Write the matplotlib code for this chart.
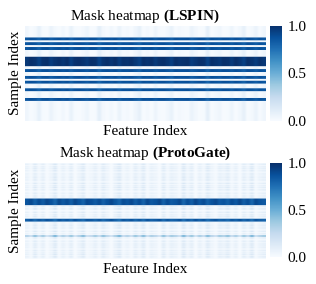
import numpy as np
import matplotlib
matplotlib.use("Agg")
import matplotlib.pyplot as plt

plt.rcParams['font.family'] = ['Liberation Serif', 'DejaVu Serif']
plt.rcParams['mathtext.fontset'] = 'custom'
plt.rcParams['mathtext.rm'] = 'Liberation Serif'
plt.rcParams['mathtext.bf'] = 'Liberation Serif:bold'

n_samples = 100
n_features = 60

# LSPIN: rows that are selected (start, height) and their gate value
lspin_rows = [13, 18, 23, 33, 46, 53, 58, 66, 76]
lspin_heights = [3, 3, 3, 10, 3, 3, 3, 3, 3]
lspin_vals = [0.88, 0.88, 0.88, 1.0, 0.88, 0.88, 0.88, 0.88, 0.88]
# faint per-feature background (vertical streaks)
lspin_cols = [0.04, 0.00, 0.02, 0.08, 0.01, 0.00, 0.06, 0.02, 0.00, 0.03,
              0.00, 0.07, 0.01, 0.00, 0.02, 0.05, 0.00, 0.01, 0.09, 0.02,
              0.00, 0.03, 0.00, 0.06, 0.01, 0.02, 0.00, 0.04, 0.08, 0.00,
              0.02, 0.00, 0.05, 0.01, 0.00, 0.03, 0.07, 0.00, 0.02, 0.01,
              0.00, 0.06, 0.03, 0.00, 0.01, 0.09, 0.00, 0.02, 0.04, 0.00,
              0.01, 0.05, 0.00, 0.03, 0.08, 0.00, 0.02, 0.06, 0.01, 0.04]

# ProtoGate: selected rows
proto_rows = [37, 58, 75]
proto_heights = [7, 3, 2]
proto_vals = [0.92, 0.88, 0.40]
proto_cols = [0.06, 0.02, 0.10, 0.03, 0.08, 0.01, 0.05, 0.12, 0.02, 0.07,
              0.03, 0.09, 0.01, 0.06, 0.11, 0.02, 0.04, 0.08, 0.03, 0.10,
              0.05, 0.01, 0.07, 0.12, 0.03, 0.06, 0.02, 0.09, 0.04, 0.11,
              0.02, 0.07, 0.05, 0.01, 0.10, 0.03, 0.08, 0.06, 0.02, 0.12,
              0.04, 0.09, 0.01, 0.07, 0.03, 0.11, 0.05, 0.02, 0.08, 0.06,
              0.10, 0.03, 0.07, 0.01, 0.09, 0.04, 0.12, 0.02, 0.06, 0.08]
proto_row_mod = [0.5, 1.0, 0.3, 0.8, 0.6, 1.0, 0.4, 0.9, 0.7, 0.2]


def lspin_matrix():
    m = np.tile(np.array(lspin_cols), (n_samples, 1))
    for r, h, v in zip(lspin_rows, lspin_heights, lspin_vals):
        m[r:r + h, :] = v - np.array(lspin_cols) * 0.8
    return m


def proto_matrix():
    cols = np.array(proto_cols)
    mod = np.array([proto_row_mod[i % len(proto_row_mod)] for i in range(n_samples)])
    m = np.outer(mod, cols) * 1.3
    for r, h, v in zip(proto_rows, proto_heights, proto_vals):
        if v < 0.5:
            m[r:r + h, :] = v * (0.4 + cols * 6)
        else:
            m[r:r + h, :] = v - cols
    return m


fig = plt.figure(figsize=(3.16, 2.84), dpi=100)

panels = [
    (lspin_matrix(), "LSPIN", [0.079, 0.574, 0.760, 0.336], [0.854, 0.574, 0.038, 0.336]),
    (proto_matrix(), "ProtoGate", [0.079, 0.089, 0.760, 0.338], [0.854, 0.095, 0.038, 0.330]),
]

for data, name, pos, cpos in panels:
    ax = fig.add_axes(pos)
    cax = fig.add_axes(cpos)
    im = ax.imshow(data, cmap='Blues', vmin=0, vmax=1, aspect='auto',
                   interpolation='antialiased')
    ax.set_xticks([])
    ax.set_yticks([])
    for s in ax.spines.values():
        s.set_visible(False)
    ax.set_title("Mask heatmap $\\mathbf{(" + name + ")}$", fontsize=11, pad=4)
    ax.set_xlabel("Feature Index", fontsize=11, labelpad=3)
    ax.set_ylabel("Sample Index", fontsize=11, labelpad=2)
    cb = fig.colorbar(im, cax=cax, ticks=[0.0, 0.5, 1.0])
    cb.outline.set_visible(False)
    cb.ax.tick_params(length=0, labelsize=11, pad=4)

fig.savefig("out.png", dpi=100)
